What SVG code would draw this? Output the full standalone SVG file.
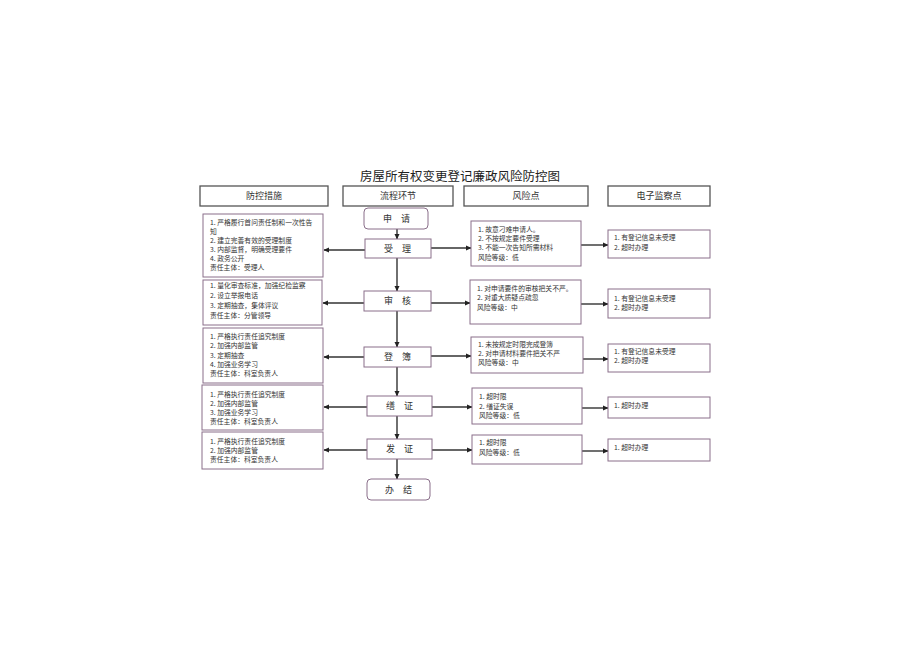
<svg xmlns="http://www.w3.org/2000/svg" width="920" height="651" viewBox="0 0 920 651">
<defs>
<marker id="ah" markerWidth="6" markerHeight="6" refX="5" refY="3" orient="auto" markerUnits="userSpaceOnUse">
<path d="M0,0.5 L5.5,3 L0,5.5 Z" fill="#222"/>
</marker>
<style>
text{font-family:"Noto Sans CJK SC","Liberation Serif",serif;fill:#333}
.hd{fill:#fff;stroke:#555;stroke-width:1.3}
.bx{fill:#fff;stroke:#8a6f8a;stroke-width:1}
.t7{font-size:6.8px}
.t9{font-size:9px;text-anchor:middle}
.pr{font-size:9px;text-anchor:middle;letter-spacing:9px}
.ln{stroke:#333;stroke-width:1.4;fill:none;marker-end:url(#ah)}
</style>
</defs>
<rect width="920" height="651" fill="#fff"/>
<text x="460" y="181" style="font-size:12.5px;text-anchor:middle;fill:#222">房屋所有权变更登记廉政风险防控图</text>

<g id="h1"><rect class="hd" x="200" y="186" width="128" height="20"/><text class="t9" x="264" y="199">防控措施</text></g>
<g id="h2"><rect class="hd" x="343" y="186" width="110" height="20"/><text class="t9" x="398" y="199">流程环节</text></g>
<g id="h3"><rect class="hd" x="464" y="186" width="124" height="20"/><text class="t9" x="526" y="199">风险点</text></g>
<g id="h4"><rect class="hd" x="608" y="186" width="102" height="20"/><text class="t9" x="659" y="199">电子监察点</text></g>

<g id="connectors">
<line class="ln" x1="397" y1="229" x2="397" y2="239"/>
<line class="ln" x1="397" y1="258" x2="397" y2="291"/>
<line class="ln" x1="397" y1="311" x2="397" y2="347"/>
<line class="ln" x1="397" y1="367" x2="397" y2="396"/>
<line class="ln" x1="397" y1="416" x2="397" y2="439"/>
<line class="ln" x1="397" y1="459" x2="397" y2="479"/>
<line class="ln" x1="365" y1="250" x2="324" y2="250"/>
<line class="ln" x1="364" y1="303" x2="323" y2="303"/>
<line class="ln" x1="364" y1="357" x2="324" y2="357"/>
<line class="ln" x1="367" y1="407" x2="324" y2="407"/>
<line class="ln" x1="367" y1="450" x2="324" y2="450"/>
<line class="ln" x1="431" y1="248" x2="471" y2="248"/>
<line class="ln" x1="431" y1="303" x2="470" y2="303"/>
<line class="ln" x1="431" y1="356" x2="471" y2="356"/>
<line class="ln" x1="432" y1="407" x2="472" y2="407"/>
<line class="ln" x1="432" y1="450" x2="472" y2="450"/>
<line class="ln" x1="581" y1="245" x2="608" y2="245"/>
<line class="ln" x1="581" y1="304" x2="608" y2="304"/>
<line class="ln" x1="583" y1="359" x2="608" y2="359"/>
<line class="ln" x1="582" y1="408" x2="608" y2="408"/>
<line class="ln" x1="582" y1="451" x2="608" y2="451"/>
</g>

<g id="p0"><rect class="bx" x="364" y="208" width="64" height="21" rx="4"/><text class="pr" x="401" y="222">申请</text></g>
<g id="p1"><rect class="bx" x="365" y="239" width="66" height="19"/><text class="pr" x="402" y="252">受理</text></g>
<g id="p2"><rect class="bx" x="364" y="291" width="67" height="20"/><text class="pr" x="402" y="304">审核</text></g>
<g id="p3"><rect class="bx" x="364" y="347" width="67" height="20"/><text class="pr" x="402" y="360">登簿</text></g>
<g id="p4"><rect class="bx" x="367" y="396" width="65" height="20"/><text class="pr" x="404" y="409">缮证</text></g>
<g id="p5"><rect class="bx" x="367" y="439" width="65" height="20"/><text class="pr" x="404" y="452">发证</text></g>
<g id="p6"><rect class="bx" x="367" y="479" width="63" height="21" rx="4"/><text class="pr" x="403" y="493">办结</text></g>

<g id="l1"><rect class="bx" x="203" y="214" width="120" height="63"/>
<text class="t7" x="210"><tspan x="210" y="224.5">1. 严格履行首问责任制和一次性告</tspan><tspan x="210" y="233.5">知</tspan><tspan x="210" y="242.5">2. 建立完善有效的受理制度</tspan><tspan x="210" y="251.5">3. 内部监督，明确受理要件</tspan><tspan x="210" y="260.5">4. 政务公开</tspan><tspan x="210" y="269.5">责任主体：受理人</tspan></text></g>
<g id="l2"><rect class="bx" x="203" y="280" width="119" height="45"/>
<text class="t7" x="210"><tspan x="210" y="287.5">1. 量化审查标准，加强纪检监察</tspan><tspan x="210" y="297.5">2. 设立举报电话</tspan><tspan x="210" y="307.5">3. 定期抽查，集体评议</tspan><tspan x="210" y="317.5">责任主体：分管领导</tspan></text></g>
<g id="l3"><rect class="bx" x="203" y="328" width="120" height="55"/>
<text class="t7" x="210"><tspan x="210" y="338.5">1. 严格执行责任追究制度</tspan><tspan x="210" y="348">2. 加强内部监管</tspan><tspan x="210" y="357.5">3. 定期抽查</tspan><tspan x="210" y="366.5">4. 加强业务学习</tspan><tspan x="210" y="375.5">责任主体：科室负责人</tspan></text></g>
<g id="l4"><rect class="bx" x="202" y="385" width="121" height="45"/>
<text class="t7" x="210"><tspan x="210" y="396.5">1. 严格执行责任追究制度</tspan><tspan x="210" y="405.5">2. 加强内部监管</tspan><tspan x="210" y="414.5">3. 加强业务学习</tspan><tspan x="210" y="423.5">责任主体：科室负责人</tspan></text></g>
<g id="l5"><rect class="bx" x="202" y="432" width="121" height="37"/>
<text class="t7" x="210"><tspan x="210" y="443.5">1. 严格执行责任追究制度</tspan><tspan x="210" y="452.5">2. 加强内部监管</tspan><tspan x="210" y="461.5">责任主体：科室负责人</tspan></text></g>

<g id="r1"><rect class="bx" x="471" y="221" width="110" height="45"/>
<text class="t7" x="478"><tspan x="478" y="231.5">1. 故意刁难申请人。</tspan><tspan x="478" y="240.5">2. 不按规定要件受理</tspan><tspan x="478" y="249.5">3. 不能一次告知所需材料</tspan><tspan x="478" y="259.5">风险等级：低</tspan></text></g>
<g id="r2"><rect class="bx" x="470" y="280" width="111" height="44"/>
<text class="t7" x="477"><tspan x="477" y="290.5">1. 对申请要件的审核把关不严。</tspan><tspan x="477" y="299.5">2. 对重大质疑点疏忽</tspan><tspan x="477" y="309.5">风险等级：中</tspan></text></g>
<g id="r3"><rect class="bx" x="471" y="337" width="112" height="36"/>
<text class="t7" x="478"><tspan x="478" y="346.5">1. 未按规定时限完成登簿</tspan><tspan x="478" y="355.5">2. 对申请材料要件把关不严</tspan><tspan x="478" y="364.5">风险等级：中</tspan></text></g>
<g id="r4"><rect class="bx" x="472" y="388" width="110" height="36"/>
<text class="t7" x="479"><tspan x="479" y="398.5">1. 超时限</tspan><tspan x="479" y="408.5">2. 缮证失误</tspan><tspan x="479" y="417.5">风险等级：低</tspan></text></g>
<g id="r5"><rect class="bx" x="472" y="435" width="110" height="29"/>
<text class="t7" x="479"><tspan x="479" y="444.5">1. 超时限</tspan><tspan x="479" y="454.5">风险等级：低</tspan></text></g>

<g id="e1"><rect class="bx" x="608" y="230" width="102" height="28"/>
<text class="t7" x="614"><tspan x="614" y="239.5">1. 有登记信息未受理</tspan><tspan x="614" y="249.5">2. 超时办理</tspan></text></g>
<g id="e2"><rect class="bx" x="608" y="289" width="102" height="29"/>
<text class="t7" x="614"><tspan x="614" y="300.5">1. 有登记信息未受理</tspan><tspan x="614" y="309.5">2. 超时办理</tspan></text></g>
<g id="e3"><rect class="bx" x="608" y="344" width="102" height="28"/>
<text class="t7" x="614"><tspan x="614" y="353.5">1. 有登记信息未受理</tspan><tspan x="614" y="362.5">2. 超时办理</tspan></text></g>
<g id="e4"><rect class="bx" x="608" y="397" width="102" height="21"/>
<text class="t7" x="614" y="407.5">1. 超时办理</text></g>
<g id="e5"><rect class="bx" x="608" y="439" width="102" height="22"/>
<text class="t7" x="614" y="449.5">1. 超时办理</text></g>
</svg>
